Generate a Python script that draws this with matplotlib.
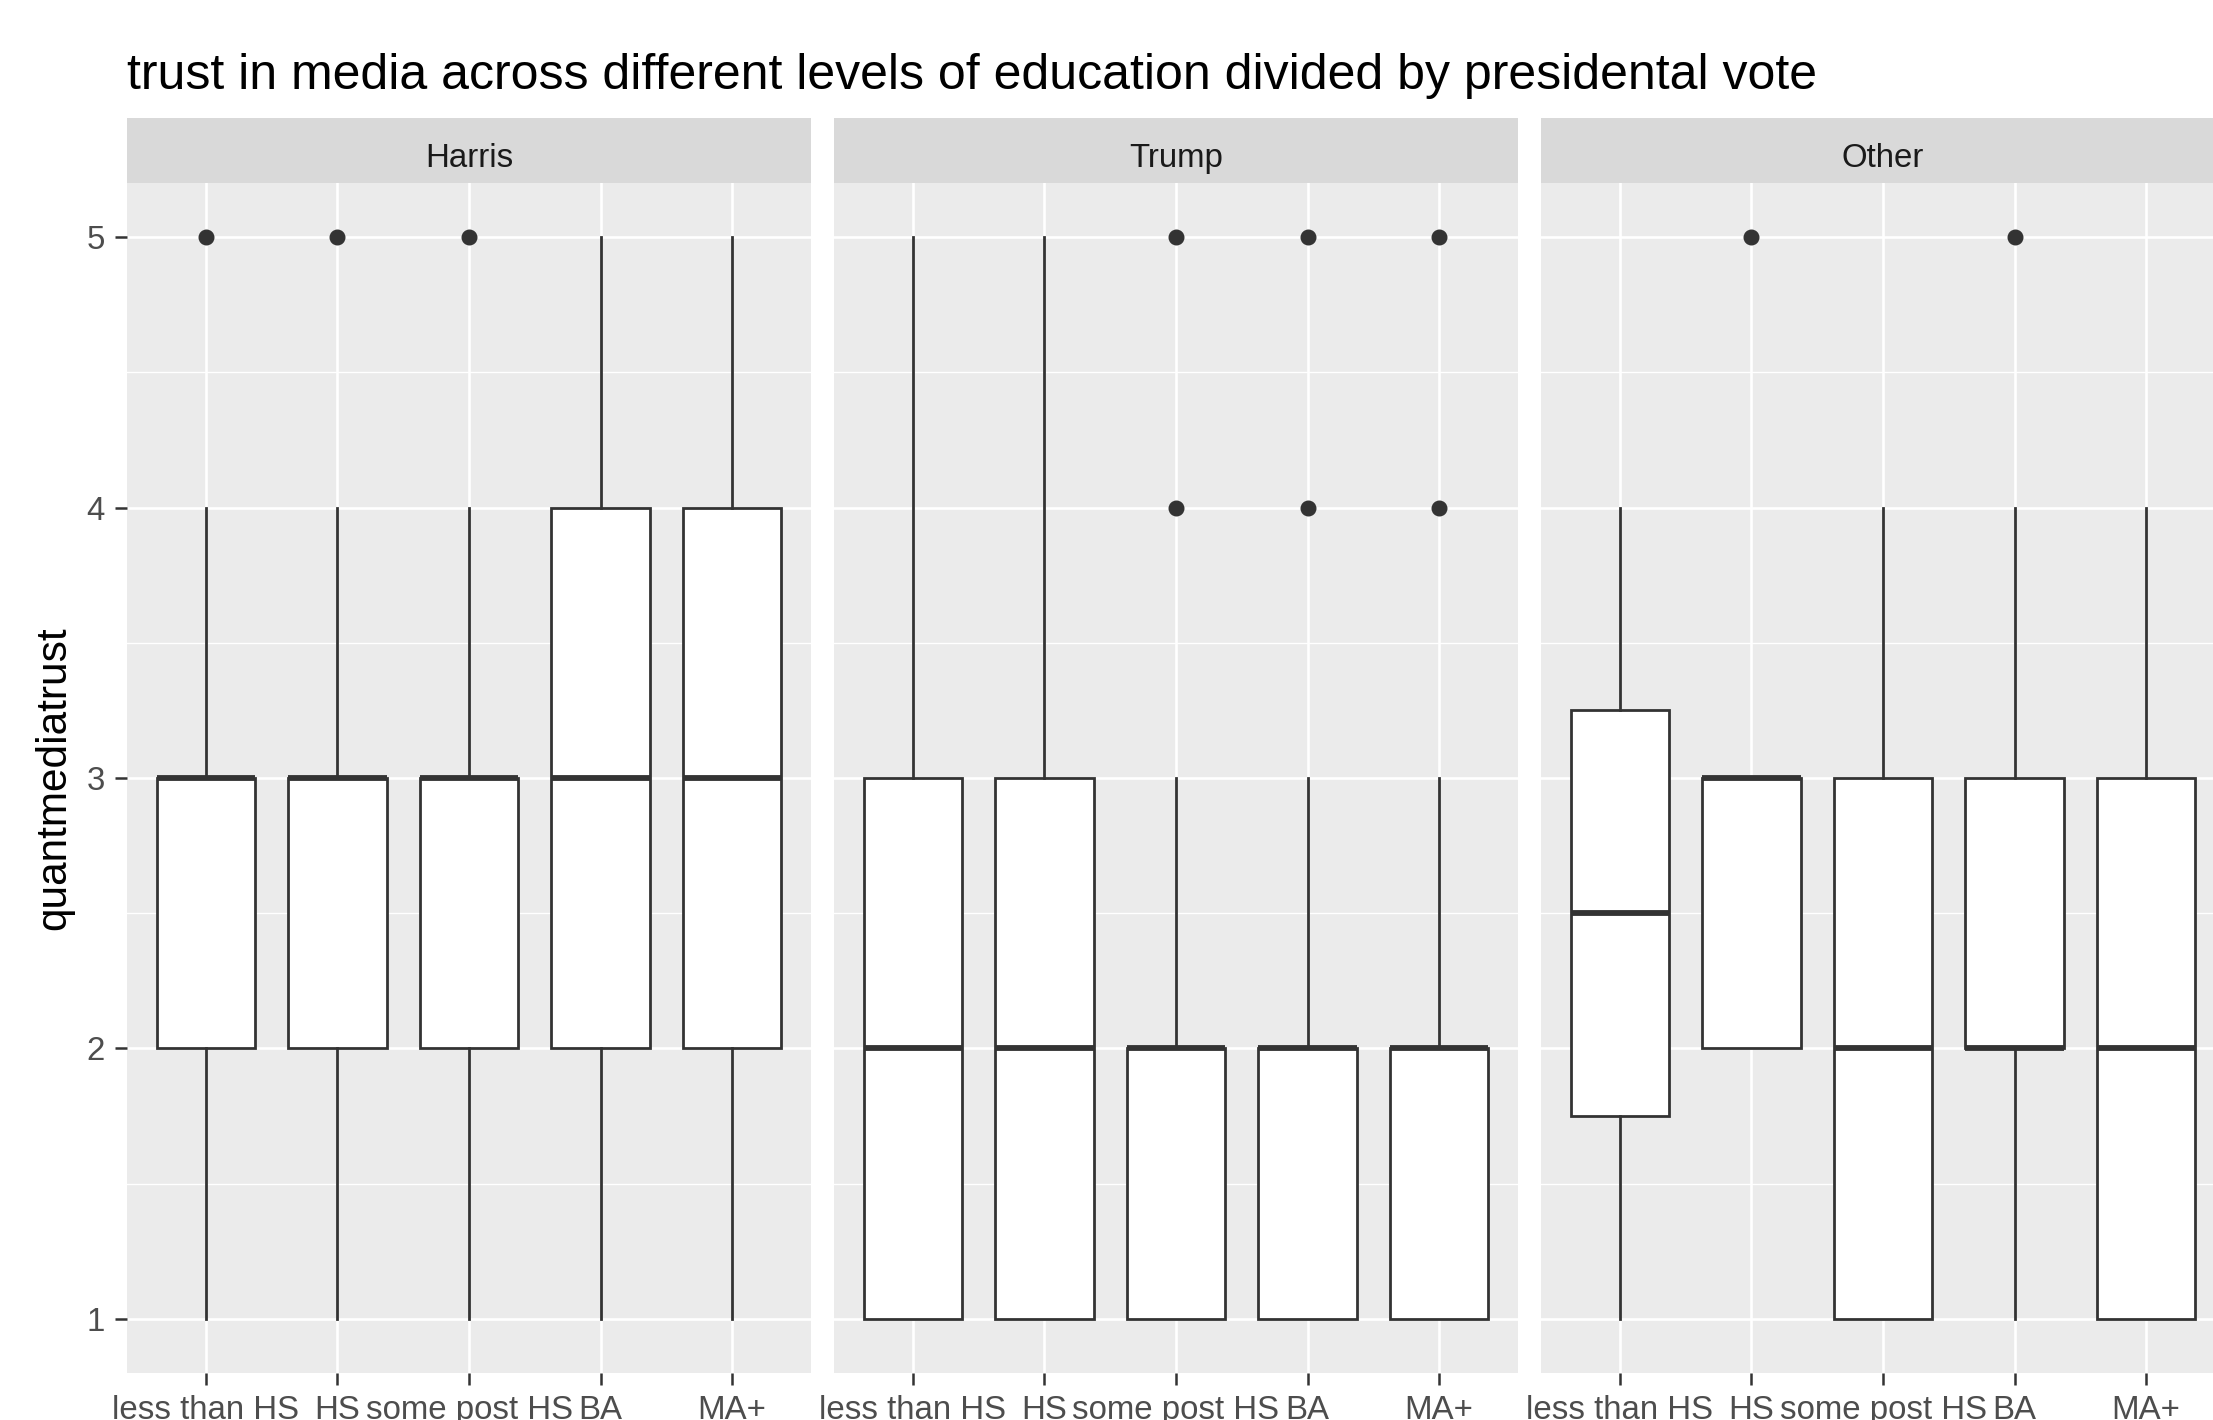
import matplotlib
matplotlib.use("Agg")
import matplotlib.pyplot as plt
from matplotlib.ticker import FixedLocator

plt.rcParams['font.family'] = ['Liberation Sans', 'DejaVu Sans']

# categories
votes = ["Harris", "Trump", "Other"]
education = ["less than HS", "HS", "some post HS", "BA", "MA+"]

# box stats, one list per panel
harris_q1 = [2, 2, 2, 2, 2]
harris_med = [3, 3, 3, 3, 3]
harris_q3 = [3, 3, 3, 4, 4]
harris_lo = [1, 1, 1, 1, 1]
harris_hi = [4, 4, 4, 5, 5]
harris_out = [[5], [5], [5], [], []]

trump_q1 = [1, 1, 1, 1, 1]
trump_med = [2, 2, 2, 2, 2]
trump_q3 = [3, 3, 2, 2, 2]
trump_lo = [1, 1, 1, 1, 1]
trump_hi = [5, 5, 3, 3, 3]
trump_out = [[], [], [4, 5], [4, 5], [4, 5]]

other_q1 = [1.75, 2, 1, 2, 1]
other_med = [2.5, 3, 2, 2, 2]
other_q3 = [3.25, 3, 3, 3, 3]
other_lo = [1, 2, 1, 1, 1]
other_hi = [4, 3, 4, 4, 4]
other_out = [[], [5], [], [5], []]

y_ticks = [1, 2, 3, 4, 5]

panels = [
    (harris_q1, harris_med, harris_q3, harris_lo, harris_hi, harris_out),
    (trump_q1, trump_med, trump_q3, trump_lo, trump_hi, trump_out),
    (other_q1, other_med, other_q3, other_lo, other_hi, other_out),
]

W, H = 2213, 1420
fig = plt.figure(figsize=(W / 100, H / 100), dpi=100)

dark = "#333333"
panel_left = [127, 834, 1541]
panel_w = 684
panel_top, panel_bot = 183, 1373
strip_top = 118

for i, (vote, stats) in enumerate(zip(votes, panels)):
    q1, med, q3, lo, hi, out = stats
    ax = fig.add_axes([panel_left[i] / W, 1 - panel_bot / H,
                       panel_w / W, (panel_bot - panel_top) / H])
    ax.set_facecolor("#EBEBEB")
    for s in ax.spines.values():
        s.set_visible(False)

    bxp_stats = []
    for j, lab in enumerate(education):
        bxp_stats.append(dict(label=lab, q1=q1[j], med=med[j], q3=q3[j],
                              whislo=lo[j], whishi=hi[j], fliers=out[j]))
    ax.bxp(bxp_stats, positions=range(1, 6), widths=0.75, showcaps=False,
           patch_artist=True,
           boxprops=dict(facecolor="white", edgecolor=dark, linewidth=2.0),
           medianprops=dict(color=dark, linewidth=4.2, solid_capstyle="butt"),
           whiskerprops=dict(color=dark, linewidth=2.0),
           flierprops=dict(marker="o", markerfacecolor=dark, markeredgecolor=dark,
                           markersize=10.5),
           zorder=3)

    ax.set_xlim(0.4, 5.6)
    ax.set_ylim(0.8, 5.2)
    ax.set_xticks(range(1, 6))
    ax.set_xticklabels(education)
    ax.yaxis.set_major_locator(FixedLocator(y_ticks))
    ax.yaxis.set_minor_locator(FixedLocator([1.5, 2.5, 3.5, 4.5]))
    ax.set_axisbelow(True)
    ax.grid(which="major", color="white", linewidth=1.9)
    ax.grid(which="minor", axis="y", color="white", linewidth=0.95)
    ax.tick_params(axis="both", which="major", length=8.6, width=1.8,
                   color=dark, labelsize=23.8, labelcolor="#4D4D4D")
    ax.tick_params(axis="x", pad=7)
    ax.tick_params(axis="y", pad=7.2)
    ax.tick_params(which="minor", length=0)
    if i == 0:
        ax.set_ylabel("quantmediatrust", fontsize=30.5, color="black", labelpad=9)
    else:
        ax.tick_params(axis="y", which="both", left=False, labelleft=False)

    # facet strip
    sax = fig.add_axes([panel_left[i] / W, 1 - panel_top / H,
                        panel_w / W, (panel_top - strip_top) / H])
    sax.set_facecolor("#D9D9D9")
    sax.set_xticks([])
    sax.set_yticks([])
    for s in sax.spines.values():
        s.set_visible(False)
    sax.text(0.5, 0.25, vote, ha="center", va="baseline", fontsize=23.8,
             color="#1A1A1A", transform=sax.transAxes)

fig.text(127 / W, 1 - 89 / H,
         "trust in media across different levels of education divided by presidental vote",
         fontsize=36, color="black", ha="left", va="baseline")

fig.savefig("out.png", dpi=100)
